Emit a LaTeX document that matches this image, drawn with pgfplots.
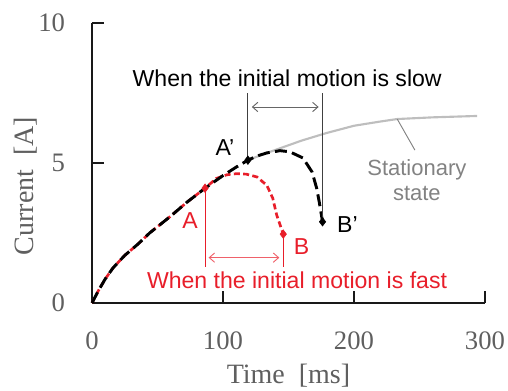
\documentclass[border=0pt]{standalone}
\usepackage{pgfplots}
\pgfplotsset{compat=1.18}
\usetikzlibrary{arrows.meta}
\usepackage{fontspec}
\setmainfont{Liberation Serif}
\setsansfont{Liberation Sans}
\definecolor{myred}{RGB}{232,30,42}
\definecolor{stat}{RGB}{190,190,190}
\definecolor{stattext}{RGB}{130,130,130}
\definecolor{tickgray}{RGB}{95,95,95}
\begin{document}
\begin{tikzpicture}
\useasboundingbox (-69pt,-66pt) rectangle (312pt,227.25pt);
\begin{axis}[
  width=294.75pt, height=210pt, scale only axis,
  xmin=0, xmax=300, ymin=0, ymax=10,
  axis x line*=bottom, axis y line*=left,
  axis line style={-, line width=1.3pt, black!90},
  xtick={0,100,200,300}, ytick={0,5,10},
  tick align=inside, major tick length=9pt,
  tick style={line width=1.3pt, black!90},
  /pgf/number format/assume math mode=true,
  ticklabel style={font=\fontsize{20}{24}\selectfont, text=tickgray, inner sep=0pt},
  xticklabel style={anchor=center, yshift=-28pt},
  yticklabel style={anchor=east, xshift=-20pt},
  xlabel={Time\ \ [ms]}, ylabel={Current\ \ [A]},
  xlabel style={at={(axis description cs:0.5,-0.26)}, anchor=center, font=\fontsize{21}{25}\selectfont, text=tickgray},
  ylabel style={at={(axis description cs:-0.17,0.418)}, anchor=center, font=\fontsize{21}{25}\selectfont, text=tickgray},
  clip=false,
]
% stationary state
\addplot[stat, line width=1.6pt] coordinates {
 (119,5.1) (130,5.3) (145,5.55) (160,5.8) (179,6.07) (200,6.33) (220,6.48) (233,6.57) (260,6.63) (294,6.68)};
% fast (red)
\addplot[myred, line width=2pt, dash pattern=on 4.5pt off 2.5pt] coordinates {
 (0,0) (5,0.45) (10,0.85) (16,1.25) (25,1.7) (35,2.1) (44,2.5) (60,3.1) (72.5,3.6) (86.3,4.1)
 (95,4.45) (103,4.58) (110.6,4.62) (118,4.6) (126,4.5) (133.5,4.2) (138,3.74) (141,3.14) (143.5,2.8) (146,2.46)};
% slow (black)
\addplot[black, line width=2.2pt, dash pattern=on 9pt off 4pt] coordinates {
 (0,0) (5,0.45) (10,0.85) (16,1.25) (25,1.7) (35,2.1) (44,2.5) (60,3.1) (72.5,3.6) (86.3,4.1)
 (100,4.55) (110,4.85) (119,5.1) (126,5.25) (133.5,5.36) (143.5,5.44) (151,5.4) (161,5.18) (168,4.68) (171.5,4.1) (173.5,3.6) (176,2.9)};
% markers
\addplot[only marks, mark=diamond*, mark size=3.2pt, myred] coordinates {(86.3,4.1) (146,2.46)};
\addplot[only marks, mark=diamond*, mark size=3.2pt, black] coordinates {(119,5.1) (176,2.9)};
% slow annotations
\draw[black!75, line width=0.7pt] (axis cs:119,5.1) -- (axis cs:119,7.5);
\draw[black!75, line width=0.7pt] (axis cs:176,2.9) -- (axis cs:176,7.5);
\draw[black!60, line width=0.7pt, {Straight Barb[length=4pt,width=7pt]}-{Straight Barb[length=4pt,width=7pt]}] (axis cs:122,7.0) -- (axis cs:173,7.0);
\node[font=\sffamily\fontsize{17.3}{20}\selectfont, black] at (axis cs:149,8.04) {When the initial motion is slow};
\node[font=\sffamily\fontsize{17.3}{20}\selectfont, black] at (axis cs:101.5,5.54) {A\textquoteright};
\node[font=\sffamily\fontsize{17.3}{20}\selectfont, black] at (axis cs:195,2.79) {B\textquoteright};
% fast annotations
\draw[myred, line width=0.7pt] (axis cs:86.3,4.1) -- (axis cs:86.3,1.28);
\draw[myred, line width=0.7pt] (axis cs:146,2.46) -- (axis cs:146,1.28);
\draw[myred!70, line width=0.7pt, {Straight Barb[length=4pt,width=7pt]}-{Straight Barb[length=4pt,width=7pt]}] (axis cs:89,1.62) -- (axis cs:143,1.62);
\node[font=\sffamily\fontsize{17.3}{20}\selectfont, myred] at (axis cs:156.5,0.82) {When the initial motion is fast};
\node[font=\sffamily\fontsize{17.3}{20}\selectfont, myred] at (axis cs:74.8,2.96) {A};
\node[font=\sffamily\fontsize{17.3}{20}\selectfont, myred] at (axis cs:160,2.0) {B};
% stationary label
\draw[stattext, line width=0.7pt] (axis cs:233,6.57) -- (axis cs:246.5,5.46);
\node[font=\sffamily\fontsize{16.5}{19}\selectfont, stattext, align=center] at (axis cs:248,4.39) {Stationary\\state};
\end{axis}
\end{tikzpicture}
\end{document}
